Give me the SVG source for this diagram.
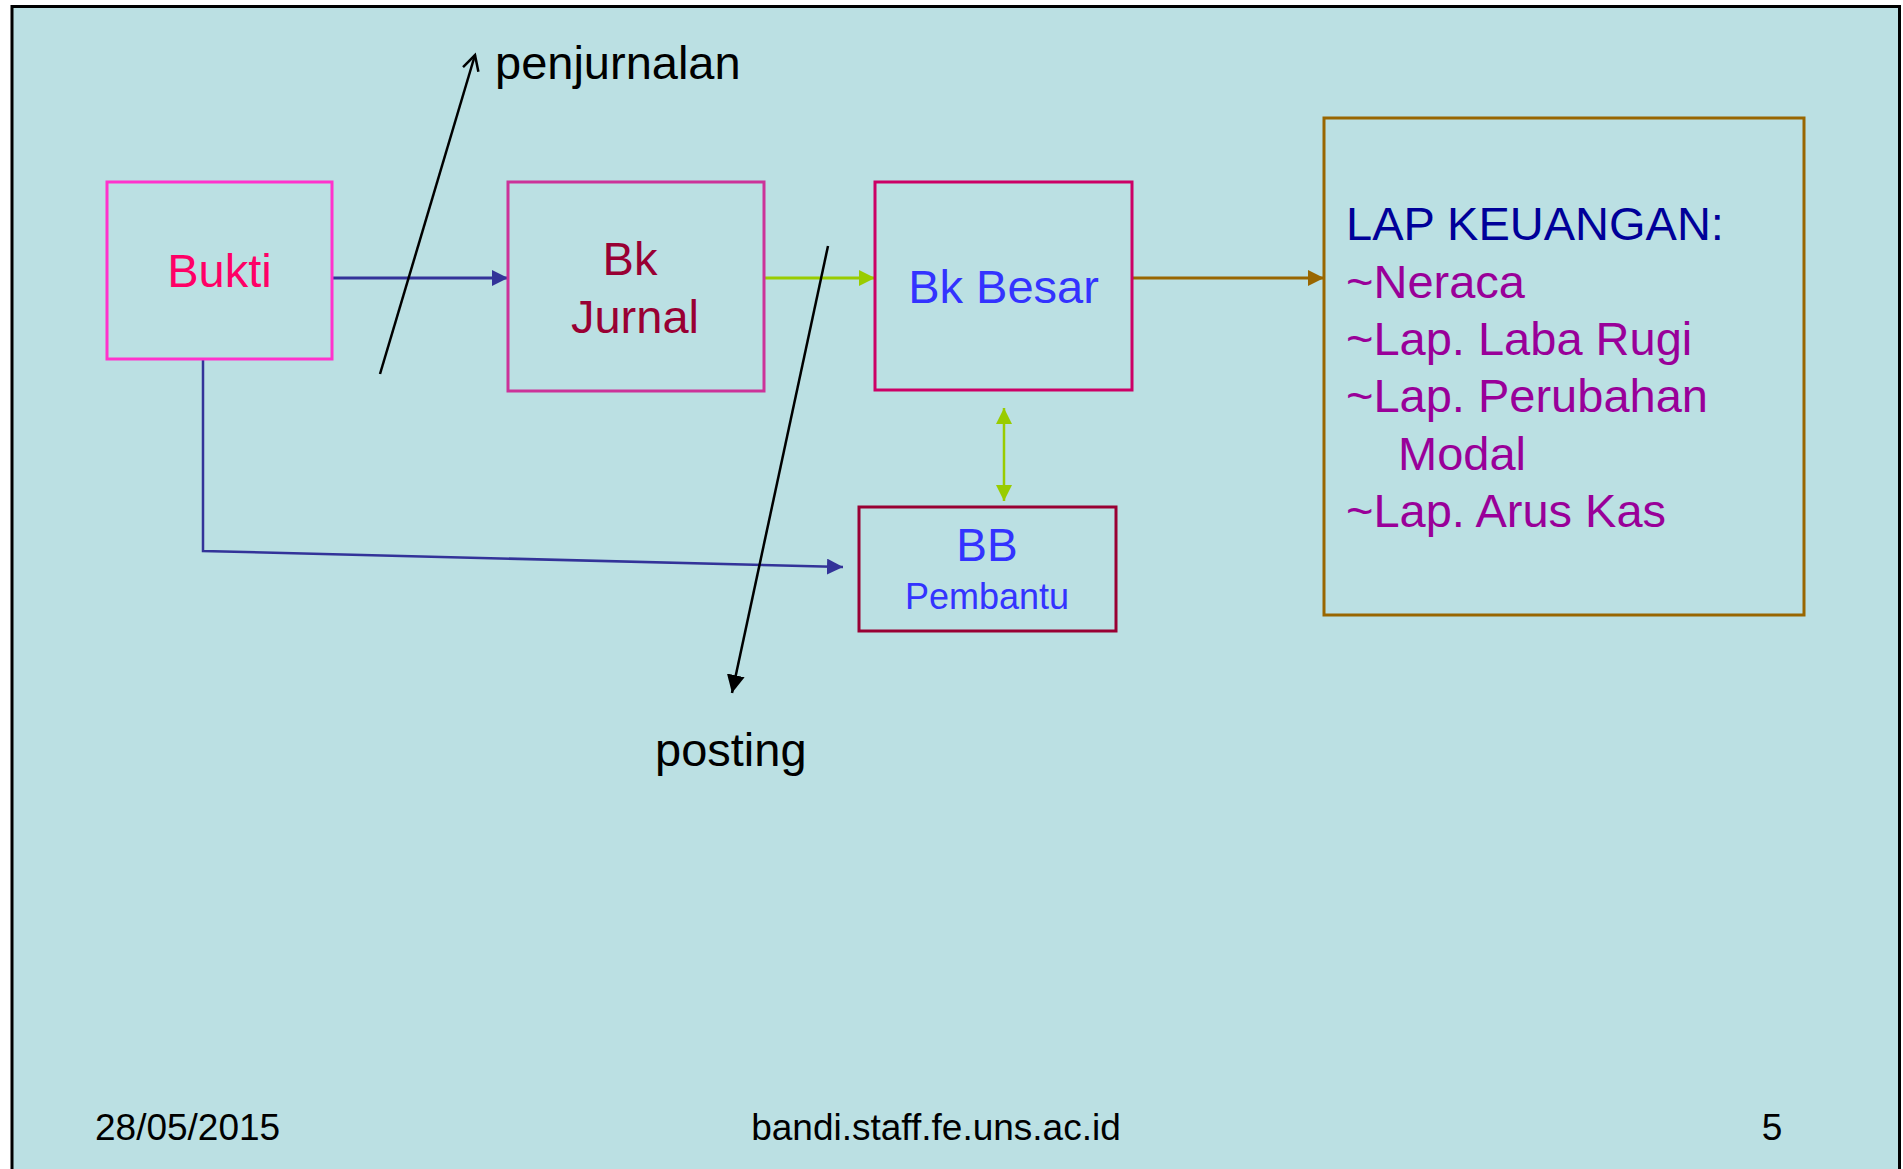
<svg xmlns="http://www.w3.org/2000/svg" width="1903" height="1169" viewBox="0 0 1903 1169">
<style>
text{font-family:"Liberation Sans",Arial,sans-serif}
.box{fill:none;stroke-width:3}
.t47{font-size:47px}
.lap{font-size:47px;fill:#990099}
.foot{font-size:37px;fill:#000}
</style>
<defs>
<marker id="aBlue" markerUnits="userSpaceOnUse" markerWidth="18" markerHeight="16" refX="16" refY="8" orient="auto"><path d="M0,0 L16,8 L0,16 z" fill="#333399"/></marker>
<marker id="aGreen" markerUnits="userSpaceOnUse" markerWidth="18" markerHeight="16" refX="16" refY="8" orient="auto-start-reverse"><path d="M0,0 L16,8 L0,16 z" fill="#99CC00"/></marker>
<marker id="aBrown" markerUnits="userSpaceOnUse" markerWidth="18" markerHeight="16" refX="16" refY="8" orient="auto"><path d="M0,0 L16,8 L0,16 z" fill="#996600"/></marker>
<marker id="aBlack" markerUnits="userSpaceOnUse" markerWidth="20" markerHeight="18" refX="18" refY="9" orient="auto"><path d="M0,0 L18,9 L0,18 z" fill="#000"/></marker>
<marker id="aOpen" markerUnits="userSpaceOnUse" markerWidth="20" markerHeight="20" refX="17" refY="10" orient="auto"><path d="M2,2 L17,10 L2,18" fill="none" stroke="#000" stroke-width="2.5"/></marker>
</defs>
<rect x="0" y="0" width="1903" height="1169" fill="#fff"/>
<rect x="12" y="6.5" width="1887.5" height="1180" fill="#BBE0E3" stroke="#000" stroke-width="3"/>

<g id="connectors" fill="none">
<line x1="332" y1="278" x2="508" y2="278" stroke="#333399" stroke-width="3" marker-end="url(#aBlue)"/>
<line x1="764" y1="278" x2="875" y2="278" stroke="#99CC00" stroke-width="3" marker-end="url(#aGreen)"/>
<line x1="1132" y1="278" x2="1324" y2="278" stroke="#996600" stroke-width="3" marker-end="url(#aBrown)"/>
<line x1="1004" y1="408" x2="1004" y2="501" stroke="#99CC00" stroke-width="2.5" marker-start="url(#aGreen)" marker-end="url(#aGreen)"/>
<polyline points="203,359 203,551 843,567" stroke="#333399" stroke-width="2.5" marker-end="url(#aBlue)"/>
<line x1="380" y1="374" x2="475" y2="55" stroke="#000" stroke-width="2.5" marker-end="url(#aOpen)"/>
<line x1="828" y1="246" x2="732" y2="693" stroke="#000" stroke-width="2.5" marker-end="url(#aBlack)"/>
</g>

<g id="bukti">
<rect class="box" x="107" y="182" width="225" height="177" stroke="#FF33CC"/>
<text class="t47" x="219.5" y="287" text-anchor="middle" fill="#FF0066">Bukti</text>
</g>
<g id="bk-jurnal">
<rect class="box" x="508" y="182" width="256" height="209" stroke="#CC3399"/>
<text class="t47" x="630" y="275" text-anchor="middle" fill="#990033">Bk</text>
<text class="t47" x="635" y="333" text-anchor="middle" fill="#990033">Jurnal</text>
</g>
<g id="bk-besar">
<rect class="box" x="875" y="182" width="257" height="208" stroke="#CC0066"/>
<text class="t47" x="1003.5" y="303" text-anchor="middle" fill="#3333FF">Bk Besar</text>
</g>
<g id="bb-pembantu">
<rect class="box" x="859" y="507" width="257" height="124" stroke="#990033"/>
<text x="987" y="561" text-anchor="middle" font-size="46" fill="#3333FF">BB</text>
<text x="987" y="609" text-anchor="middle" font-size="36" fill="#3333FF">Pembantu</text>
</g>
<g id="lap-keuangan">
<rect class="box" x="1324" y="118" width="480" height="497" stroke="#996600"/>
<text x="1346" y="240" font-size="47" fill="#000099">LAP KEUANGAN:</text>
<text class="lap" x="1346" y="297.5">~Neraca</text>
<text class="lap" x="1346" y="355">~Lap. Laba Rugi</text>
<text class="lap" x="1346" y="412">~Lap. Perubahan</text>
<text class="lap" x="1398" y="470">Modal</text>
<text class="lap" x="1346" y="527">~Lap. Arus Kas</text>
</g>
<g id="label-penjurnalan">
<text class="t47" x="495" y="79" fill="#000">penjurnalan</text>
</g>
<g id="label-posting">
<text class="t47" x="655" y="766" fill="#000">posting</text>
</g>
<g id="footer">
<text class="foot" x="95" y="1140">28/05/2015</text>
<text class="foot" x="936" y="1140" text-anchor="middle">bandi.staff.fe.uns.ac.id</text>
<text class="foot" x="1772" y="1140" text-anchor="middle">5</text>
</g>
</svg>
